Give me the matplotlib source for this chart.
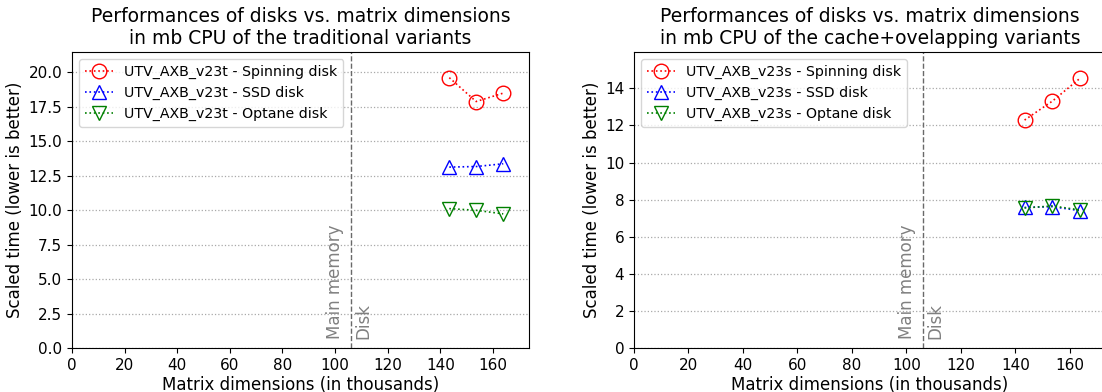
import matplotlib
matplotlib.use("Agg")
import matplotlib.pyplot as plt

dims = [143.4, 153.6, 163.9]

trad_spinning = [19.59, 17.86, 18.47]
trad_ssd = [13.11, 13.15, 13.35]
trad_optane = [10.10, 9.98, 9.72]

cache_spinning = [12.29, 13.31, 14.56]
cache_ssd = [7.58, 7.62, 7.40]
cache_optane = [7.55, 7.66, 7.44]

mem_limit = 106.0

titles = ["Performances of disks vs. matrix dimensions\nin mb CPU of the traditional variants",
          "Performances of disks vs. matrix dimensions\nin mb CPU of the cache+ovelapping variants"]
variants = ["UTV_AXB_v23t", "UTV_AXB_v23s"]
disk_names = ["Spinning disk", "SSD disk", "Optane disk"]

W, H = 1102, 392
fig = plt.figure(figsize=(W / 100, H / 100), dpi=100)

def make_axes(x0, x1, y0, y1):
    return fig.add_axes([x0 / W, 1 - y1 / H, (x1 - x0) / W, (y1 - y0) / H])

ax1 = make_axes(72, 529, 52, 348)
ax2 = make_axes(634, 1106, 52, 348)

configs = [
    (ax1, variants[0], [trad_spinning, trad_ssd, trad_optane], (0, 21.45), 173.7, titles[0]),
    (ax2, variants[1], [cache_spinning, cache_ssd, cache_optane], (0, 15.96), 173.3, titles[1]),
]
styles = [("r", "o"), ("b", "^"), ("g", "v")]

for ax, var, series, ylim, xmax, title in configs:
    for (c, m), vals, dn in zip(styles, series, disk_names):
        ax.plot(dims, vals, linestyle=":", color=c, marker=m, markersize=10.5,
                markerfacecolor="none", markeredgecolor=c, linewidth=1.2,
                label=f"{var} - {dn}")
    ax.axvline(mem_limit, color="dimgray", linestyle="--", linewidth=1)
    ax.text(mem_limit - 2.5, 0.03, "Main memory", rotation=90, ha="right", va="bottom",
            color="gray", fontsize=12, transform=ax.get_xaxis_transform())
    ax.text(mem_limit + 1.5, 0.03, "Disk", rotation=90, ha="left", va="bottom",
            color="gray", fontsize=12, transform=ax.get_xaxis_transform())
    ax.set_xlim(0, xmax)
    ax.set_ylim(*ylim)
    ax.set_xticks(range(0, 161, 20))
    ax.grid(axis="y", linestyle=":", color="darkgray", linewidth=0.9)
    ax.set_axisbelow(True)
    ax.set_xlabel("Matrix dimensions (in thousands)", fontsize=12, labelpad=2)
    ax.set_ylabel("Scaled time (lower is better)", fontsize=12, labelpad=3)
    ax.set_title(title, fontsize=13.5)
    ax.tick_params(labelsize=11)
    ax.legend(loc="upper left", fontsize=10.2)

ax1.set_yticks([0, 2.5, 5, 7.5, 10, 12.5, 15, 17.5, 20])
ax1.set_yticklabels([f"{v:.1f}" for v in [0, 2.5, 5, 7.5, 10, 12.5, 15, 17.5, 20]])
ax2.set_yticks(range(0, 15, 2))

fig.savefig("out.png", dpi=100)
